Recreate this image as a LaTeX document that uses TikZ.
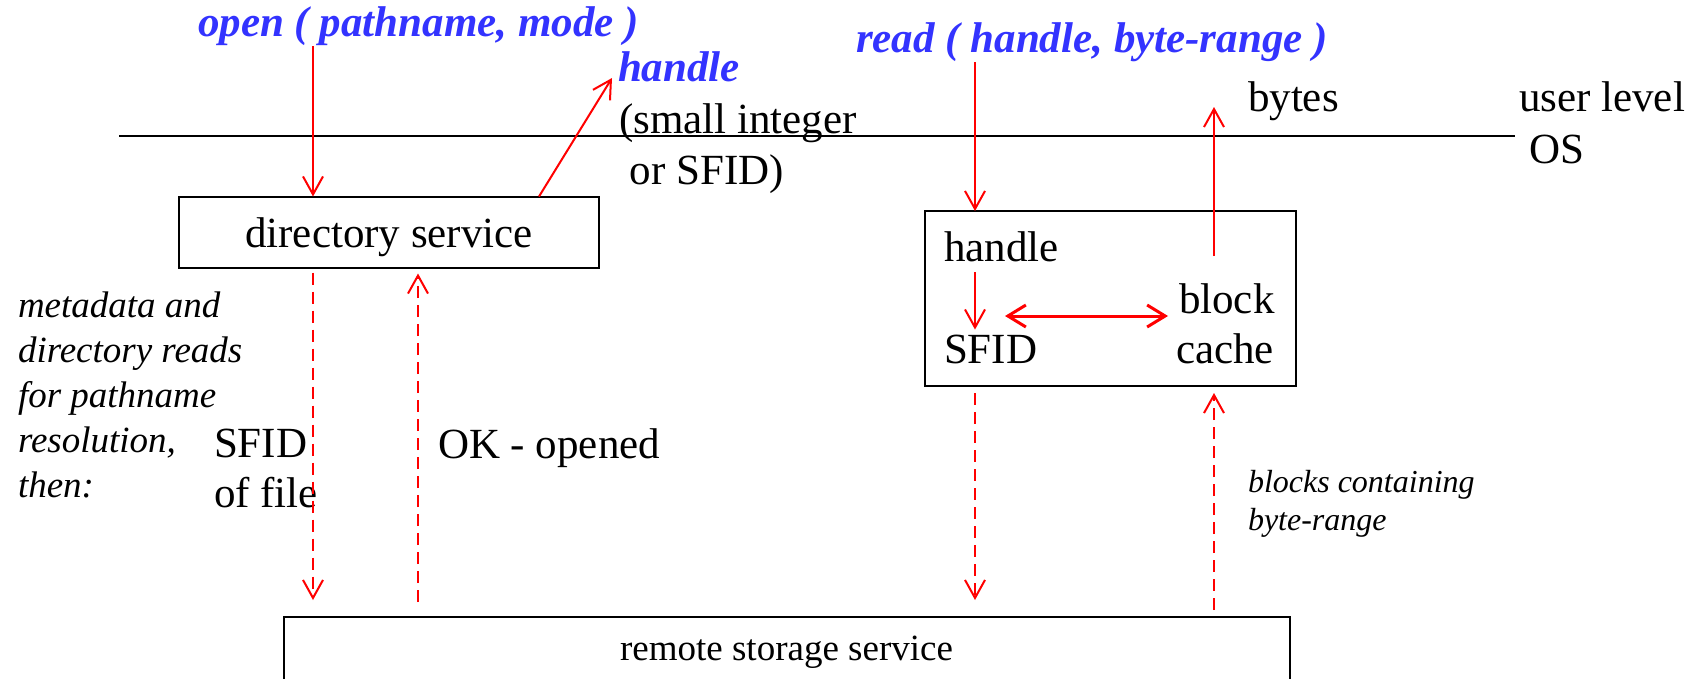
\documentclass[tikz,border=0pt]{standalone}
\usepackage{fontspec}
\setmainfont{Liberation Serif}
\usetikzlibrary{arrows.meta}
\definecolor{fnblue}{RGB}{51,51,255}
\definecolor{fnred}{RGB}{255,0,0}
\begin{document}
\begin{tikzpicture}[x=1pt,y=-1pt,
  every node/.style={inner sep=0pt, outer sep=0pt},
  big/.style={font=\fontsize{43}{50}\selectfont},
  call/.style={font=\fontsize{43}{50}\selectfont\bfseries\itshape, text=fnblue},
  note/.style={font=\fontsize{37}{45}\selectfont\itshape, align=left},
  smallnote/.style={font=\fontsize{32}{38}\selectfont\itshape, align=left},
  box/.style={draw=black, line width=2pt},
  arr/.style={draw=fnred, line width=2pt, -{Straight Barb[length=18pt,width=20pt]}},
  darr/.style={arr, dash pattern=on 12pt off 7pt},
  dblarr/.style={draw=fnred, line width=3pt, {Straight Barb[length=18pt,width=22pt]}-{Straight Barb[length=18pt,width=22pt]}},
]
\clip (0,0) rectangle (1692,678);
\fill[white] (0,0) rectangle (1692,678);

% level separator
\coordinate (sepL) at (119,136);
\coordinate (sepR) at (1515,136);
\draw[line width=2pt] (sepL) -- (sepR);
\node[big, anchor=base west] (user) at (1519,111) {user level};
\node[big, anchor=base west] (os) at (1529,163) {OS};

% open side
\node[call, anchor=base west] (open) at (198,36) {open ( pathname, mode )};
\node[call, anchor=base west] (hdl) at (618,81) {handle};
\node[big, anchor=north west, align=left] (small) at (619,104) {(small integer\\[1pt]\ or SFID)};
\node[box, big, minimum width=420pt, minimum height=71pt, text height=30pt, text depth=0pt] (dir) at (389,232) {directory service};

\node[note, anchor=north west] (meta) at (18,292) {metadata and\\directory reads\\for pathname\\resolution,\\then:};
\node[big, anchor=north west, align=left] (sfidf) at (214,429.5) {SFID\\of file};
\node[big, anchor=base west] (ok) at (438,458) {OK - opened};

% read side
\node[call, anchor=base west] (read) at (856,52) {read ( handle, byte-range )};
\node[big, anchor=base west] (bytes) at (1248,111) {bytes};
\node[box, minimum width=371pt, minimum height=175pt] (cbox) at (1110.5,298.5) {};
\node[big, anchor=base west] (h2) at (944,261) {handle};
\node[big, anchor=base west] (sfid2) at (944,363) {SFID};
\node[big, anchor=base west] (block) at (1179,313) {block};
\node[big, anchor=base west] (cache) at (1176,363) {cache};
\node[smallnote, anchor=north west] (blocks) at (1248,470) {blocks containing\\byte-range};

% remote storage
\node[box, minimum width=1006pt, minimum height=90pt] (remote) at (786.5,662) {};
\node[font=\fontsize{37}{44}\selectfont, anchor=base] (remlbl) at (786.5,660) {remote storage service};

% connectors
\coordinate (o1) at (313,46);
\draw[arr] (o1) -- (o1 |- dir.north);
\coordinate (hnd) at (612,78);
\draw[arr] ([xshift=150pt]dir.north) -- (hnd);
\coordinate (okx) at (418,600);
\draw[darr, shorten <=5pt, shorten >=17pt] (o1 |- dir.south) -- (o1 |- remote.north);
\draw[darr, shorten <=15pt, shorten >=6pt] (okx |- remote.north) -- (okx |- dir.south);

\coordinate (r1) at (975,62);
\draw[arr] (r1) -- (r1 |- cbox.north);
\draw[arr, shorten <=11pt, shorten >=5pt] (r1 |- h2.south) -- (r1 |- sfid2.north);
\coordinate (da1) at (1005,316);
\coordinate (da2) at (1168,316);
\draw[dblarr] (da1) -- (da2);
\coordinate (b1) at (1214,256);
\coordinate (b2) at (1214,107);
\draw[arr] (b1) -- (b2);
\draw[darr, shorten <=7pt, shorten >=17pt] (r1 |- cbox.south) -- (r1 |- remote.north);
\draw[darr, shorten <=7pt, shorten >=7pt] (b1 |- remote.north) -- (b1 |- cbox.south);
\end{tikzpicture}
\end{document}
